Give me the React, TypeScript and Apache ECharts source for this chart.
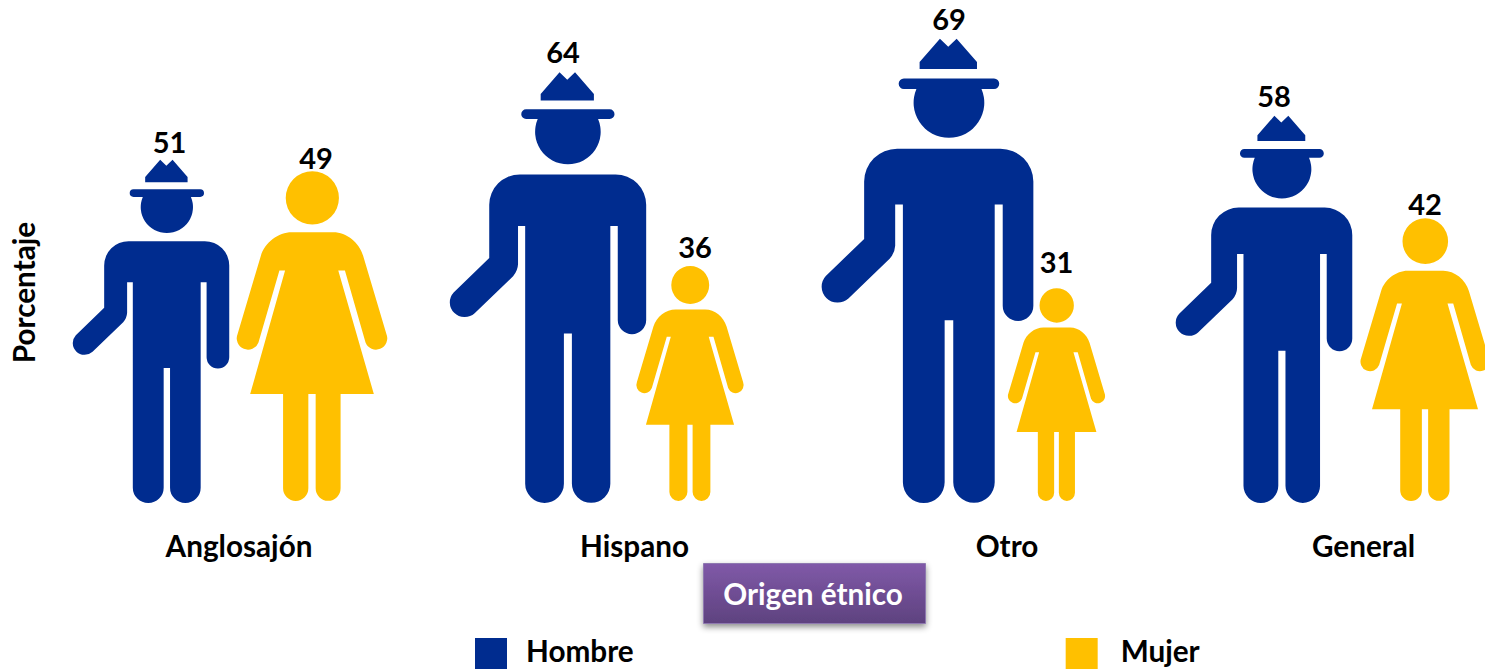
import React, { useEffect, useRef } from "react";
import * as echarts from "echarts";

const categories = ["Anglosajón", "Hispano", "Otro", "General"];
const hombre = [51, 64, 69, 58];
const mujer = [49, 36, 31, 42];

const NAVY = "#002C8F";
const GOLD = "#FFC000";
const FONT = "Lato, 'Open Sans', sans-serif";

// Layout of the pictograms relative to each category's centre
const manDx = [-81, -42, -20.5, -42];
const womanDx = [80, 100, 108.5, 119];
const manFit = [1, 1, 1, 0.992];
const womanFit = [1, 0.97, 1.02, 1];
const manLabelDx = [18.5, 15, 21.5, 10];
const womanLabelDx = [4, 5, 0, 0];
const labelGap = [[18, 21, 20, 20], [14, 20, 27, 15]];
const labelShift = [7, 44.5, 59, 57.5];

const MAN_ASPECT = 0.456;
const WOMAN_ASPECT = 0.4566;

const MAN_PATH =
  "M919.7 67.7 L919.7 60.7 L940 37.3 L948.3 45.3 L956.7 37.3 L977 60.7 L977 67.7 Z " +
  "M904 77.3 L994 77.3 A5.2 5.2 0 0 1 994 87.7 L981.5 87.7 A35.3 35.3 0 1 1 916.5 87.7 L904 87.7 A5.2 5.2 0 0 1 904 77.3 Z " +
  "M897.3 147.7 L1000.3 147.7 A33 33 0 0 1 1033.3 180.7 L1033.3 305.3 A15.3 15.3 0 0 1 1002.7 305.3 L1002.7 203.7 L994.7 203.7 " +
  "L994.7 482.5 A20.7 20.7 0 0 1 953.3 482.5 L953.3 320 L944.7 320 L944.7 482.5 A20.85 20.85 0 0 1 903 482.5 L903 203.7 L895.3 203.7 " +
  "L895.3 245 Q895 252 890 258 L848.6 298 A16 16 0 0 1 826 275.4 L864.3 238.3 L864.3 180.7 A33 33 0 0 1 897.3 147.7 Z";

const WOMAN_PATH =
  "M167 176 A80 80 0 1 1 327 176 A80 80 0 1 1 167 176 Z " +
  "M185 279 L310 279 C350 279 388 310 400 350 L470 585 A32 32 0 0 1 407 610 L345 394 L325 394 L432 765 L332 765 L332 1048 " +
  "A37.5 37.5 0 0 1 257 1048 L257 765 L235 765 L235 1048 A38 38 0 0 1 159 1048 L159 765 L60 765 L165 394 L148 394 L85 610 " +
  "A32 32 0 0 1 22 585 L92 350 C104 310 145 279 185 279 Z";

function figureSeries(
  name: string,
  values: number[],
  color: string,
  path: string,
  aspect: number,
  dx: number[],
  fit: number[],
  baseShift: number,
  labelDx: number[],
  gaps: number[]
) {
  return {
    type: "custom",
    name,
    itemStyle: { color },
    data: values.map((v, i) => [i, v]),
    encode: { x: 0, y: 1 },
    renderItem: (params: any, api: any) => {
      const i = api.value(0);
      const v = api.value(1);
      const base = api.coord([i, 0]);
      const top = api.coord([i, v]);
      const h = (base[1] - top[1]) * fit[i];
      const w = h * aspect;
      const cx = base[0] + dx[i];
      const bottom = base[1] - baseShift;
      const y = bottom - h;
      return {
        type: "group",
        children: [
          {
            type: "path",
            shape: { pathData: path, x: cx - w / 2, y, width: w, height: h, layout: "cover" },
            style: { fill: color },
          },
          {
            type: "text",
            style: {
              text: String(v),
              x: cx + labelDx[i],
              y: y - gaps[i],
              fill: "#000",
              font: `bold 29px ${FONT}`,
              textAlign: "center",
              textVerticalAlign: "middle",
            },
          },
        ],
      };
    },
  };
}

export default function App() {
  const ref = useRef<HTMLDivElement>(null);

  useEffect(() => {
    document.body.style.margin = "0";
    const chart = echarts.init(ref.current!, undefined, { renderer: "svg" });
    const rich: Record<string, any> = {};
    labelShift.forEach((s, i) => {
      rich[`c${i}`] = {
        fontFamily: FONT,
        fontWeight: "bold",
        fontSize: 29.7,
        color: "#000",
        padding: [0, 0, 0, s * 2],
      };
    });
    const legendText = (left: number) => ({
      fontFamily: FONT,
      fontWeight: "bold",
      fontSize: 29.7,
      lineHeight: 30,
      color: "#000",
      padding: [0, 0, 0, left],
    });
    chart.setOption({
      animation: false,
      backgroundColor: "#fff",
      grid: { left: 53, top: 32, width: 1484, height: 471 },
      xAxis: {
        type: "category",
        data: categories,
        axisLine: { show: false },
        axisTick: { show: false },
        axisLabel: {
          margin: 27,
          interval: 0,
          formatter: (v: string, i: number) => `{c${i}|${v}}`,
          rich,
        },
      },
      yAxis: {
        type: "value",
        min: 0,
        max: 70,
        name: "Porcentaje",
        nameLocation: "middle",
        nameGap: 15,
        nameTextStyle: {
          fontFamily: FONT,
          fontWeight: "bold",
          fontSize: 29.7,
          color: "#000",
          padding: [0, 50, 0, 0],
        },
        axisLine: { show: false },
        axisTick: { show: false },
        axisLabel: { show: false },
        splitLine: { show: false },
      },
      legend: {
        left: 475,
        top: 631,
        padding: 0,
        itemWidth: 32,
        itemHeight: 38,
        itemGap: 432,
        icon: "path://M0 0L0 0ZM0 7L32 7L32 38L0 38Z",
        data: ["Hombre", "Mujer"],
        formatter: (name: string) => (name === "Hombre" ? `{h|${name}}` : `{m|${name}}`),
        textStyle: {
          rich: { h: legendText(14), m: legendText(18) },
        },
      },
      graphic: [
        {
          type: "rect",
          left: 703,
          top: 563,
          shape: { width: 222, height: 60 },
          style: {
            fill: new echarts.graphic.LinearGradient(0, 0, 0, 1, [
              { offset: 0, color: "#8059A8" },
              { offset: 1, color: "#5E427F" },
            ]),
            stroke: "#8E78B0",
            lineWidth: 1,
            shadowBlur: 6,
            shadowColor: "rgba(0,0,0,0.45)",
            shadowOffsetY: 3,
          },
        },
        {
          type: "text",
          x: 813,
          y: 593,
          style: {
            text: "Origen étnico",
            fill: "#fff",
            font: `bold 29.7px ${FONT}`,
            textAlign: "center",
            textVerticalAlign: "middle",
          },
        },
      ],
      series: [
        figureSeries("Hombre", hombre, NAVY, MAN_PATH, MAN_ASPECT, manDx, manFit, 0, manLabelDx, labelGap[0]),
        figureSeries("Mujer", mujer, GOLD, WOMAN_PATH, WOMAN_ASPECT, womanDx, womanFit, 2, womanLabelDx, labelGap[1]),
      ],
    });
    return () => chart.dispose();
  }, []);

  return <div ref={ref} style={{ width: 1485, height: 669 }} />;
}
